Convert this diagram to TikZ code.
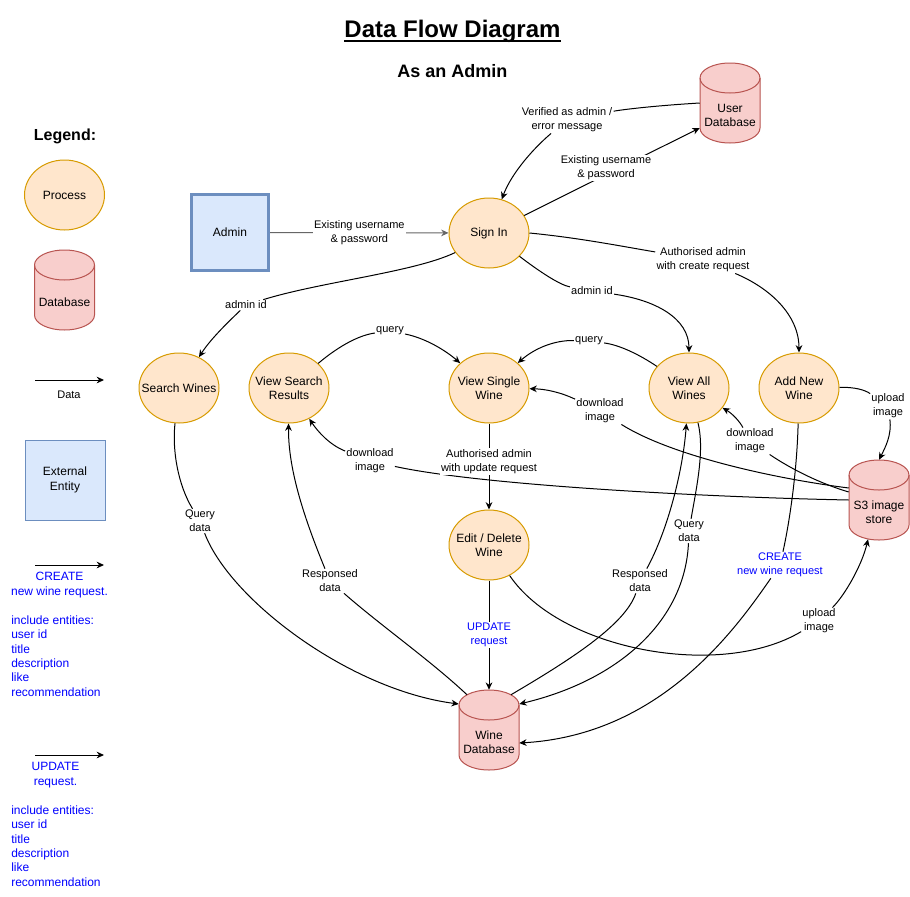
\documentclass[tikz,border=0pt]{standalone}
\usepackage{fontspec}
\setmainfont{Liberation Sans}
\usetikzlibrary{shapes.geometric,arrows.meta,calc}
\definecolor{procF}{HTML}{FFE6CC}
\definecolor{procS}{HTML}{D79B00}
\definecolor{dbF}{HTML}{F8CECC}
\definecolor{dbS}{HTML}{B85450}
\definecolor{entF}{HTML}{DAE8FC}
\definecolor{entS}{HTML}{6C8EBF}
\definecolor{reqblue}{RGB}{0,0,255}
\definecolor{flowgray}{HTML}{666666}
\tikzset{
  nodefont/.style={font=\fontsize{9}{10.8}\selectfont},
  proc/.style={ellipse, draw=procS, fill=procF, line width=0.75pt, minimum width=60pt, minimum height=52.5pt, inner sep=0pt},
  ptxt/.style={inner sep=0pt, align=center, nodefont},
  ent/.style={rectangle, draw=entS, fill=entF, line width=0.75pt, minimum width=60pt, minimum height=60pt, inner sep=0pt, align=center, nodefont},
  dbbox/.style={rectangle, minimum width=45pt, minimum height=60pt, inner sep=0pt},
  dbtxt/.style={align=center, inner sep=0pt, nodefont},
  lbl/.style={fill=white, inner sep=0.8pt, align=center, font=\fontsize{8.25}{10.5}\selectfont},
  plaintxt/.style={inner sep=0pt, align=center, font=\fontsize{8.25}{10.5}\selectfont},
  bluetxt/.style={inner sep=0pt, align=center, text=reqblue, font=\fontsize{9}{10.8}\selectfont},
  seg/.style={draw=black, line width=0.75pt},
  arr/.style={seg, -{Stealth[length=5.5pt,width=5pt]}},
  grayarr/.style={draw=flowgray, line width=0.75pt, -{Stealth[length=5.5pt,width=5pt]}},
}
\newcommand\dfdcyl[4]{%
  \begin{scope}[shift={(#2,#3)}]
    \filldraw[fill=dbF, draw=dbS, line width=0.75pt] (-30,-25) -- (-30,25)
      arc[start angle=180, end angle=360, x radius=22.5pt, y radius=11.25pt] -- (30,-25)
      arc[start angle=0, end angle=180, x radius=22.5pt, y radius=11.25pt] -- cycle;
    \draw[draw=dbS, line width=0.75pt] (-30,-25) arc[start angle=180, end angle=360, x radius=22.5pt, y radius=11.25pt];
    \node[dbbox] (#1) at (0,0) {};
    \node[dbtxt] (#1-t) at (0,12.5) {#4};
  \end{scope}}
\begin{document}
\begin{tikzpicture}[x=0.75pt,y=-0.75pt]
\fill[white] (0,0) rectangle (910,896);
\useasboundingbox (0,0) rectangle (910,896);

% titles
\node[inner sep=0pt, anchor=base, font=\bfseries\fontsize{18}{21}\selectfont] (ttl) at (452.5,37.5) {Data Flow Diagram};
\draw[line width=1.2pt] ([yshift=-2.4pt]ttl.base west) -- ([yshift=-2.4pt]ttl.base east);
\node[inner sep=0pt, anchor=base, font=\bfseries\fontsize{13.5}{16}\selectfont] (sub) at (452.5,77.5) {As an Admin};

% legend
\node[inner sep=0pt, anchor=base, font=\bfseries\fontsize{12}{14}\selectfont] (leg) at (65,140) {Legend:};
\node[proc, label={[ptxt]center:{Process}}] (lgproc) at (64.5,195) {};
\dfdcyl{lgdb}{64.5}{290}{Database}
\coordinate (lgd1) at (35,380);
\coordinate (lgd2) at (104,380);
\draw[arr] (lgd1) -- (lgd2);
\node[plaintxt] (lgdata) at (69,395) {Data};
\node[ent] (lgent) at (65,480) {External\\Entity};
\coordinate (lgc1) at (35,565);
\coordinate (lgc2) at (104,565);
\draw[arr] (lgc1) -- (lgc2);
\node[bluetxt] (lgcr) at (59.5,585) {CREATE\\new wine request.};
\node[bluetxt, anchor=west, align=left] (lgcri) at (11,656) {include entities:\\user id\\title\\description\\like\\recommendation};
\coordinate (lgu1) at (35,755);
\coordinate (lgu2) at (104,755);
\draw[arr] (lgu1) -- (lgu2);
\node[bluetxt] (lgup) at (55.5,775) {UPDATE\\request.};
\node[bluetxt, anchor=west, align=left] (lgupi) at (11,846) {include entities:\\user id\\title\\description\\like\\recommendation};

% main nodes
\node[ent, line width=2.25pt, minimum width=58pt, minimum height=57.5pt] (admin) at (230,232.5) {Admin};
\node[proc, label={[ptxt]center:{Sign In}}] (signin) at (489,233) {};
\dfdcyl{udb}{730}{103}{User\\Database}
\node[proc, label={[ptxt]center:{Search Wines}}] (searchw) at (179,388) {};
\node[proc, label={[ptxt]center:{View Search\\Results}}] (vsr) at (289,388) {};
\node[proc, label={[ptxt]center:{View Single\\Wine}}] (vsw) at (489,388) {};
\node[proc, label={[ptxt]center:{View All\\Wines}}] (viewall) at (689,388) {};
\node[proc, label={[ptxt]center:{Add New\\Wine}}] (addnew) at (799,388) {};
\node[proc, label={[ptxt]center:{Edit / Delete\\Wine}}] (edw) at (489,545) {};
\dfdcyl{wdb}{489}{730}{Wine\\Database}
\dfdcyl{s3}{879}{500}{S3 image\\store}

% edge labels
\node[lbl] (lverif) at (567,120) {Verified as admin /\\error message};
\node[lbl] (lauth) at (703,260) {Authorised admin\\with create request};
\node[lbl] (ladm2) at (592,291) {admin id};
\node[lbl] (ladm1) at (246,305) {admin id};
\node[lbl] (lq1) at (390,331) {query};
\node[lbl] (lq2) at (589,341) {query};
\node[lbl] (ldl1) at (600,411) {download\\image};
\node[lbl] (ldl2) at (750,441) {download\\image};
\node[lbl] (ldl3) at (370,461) {download\\image};
\node[lbl] (lup2) at (888,406) {upload\\image};
\node[lbl] (lqd1) at (200,521) {Query\\data};
\node[lbl] (lrd1) at (330,581) {Responsed\\data};
\node[lbl] (lrd2) at (640,581) {Responsed\\data};
\node[lbl] (lqd2) at (689,531) {Query\\data};
\node[lbl, text=reqblue] (lcr) at (780,565) {CREATE\\new wine request};
\node[lbl] (lup1) at (819,621) {upload\\image};

% connectors
\draw[grayarr] (admin) -- node[lbl] {Existing username\\\& password} (signin);

\draw[seg] (udb.west) .. controls (650,106) and (620,110) .. (lverif);
\draw[arr] (lverif) .. controls (535,147) and (512,172) .. (signin);

\draw[arr] (signin) -- ($(udb.west)+(0,25)$);
\node[lbl] (lexist2) at (606,168) {Existing username\\\& password};

\draw[seg] (signin.east) .. controls (580,238) and (620,246) .. (lauth);
\draw[arr] (lauth) .. controls (770,288) and (799,315) .. (addnew);

\draw[seg] (signin) .. controls (540,272) and (560,285) .. (ladm2);
\draw[arr] (ladm2) .. controls (655,300) and (689,318) .. (viewall);

\draw[seg] (signin.210) .. controls (415,272) and (320,282) .. (ladm1);
\draw[arr] (ladm1) .. controls (225,325) and (210,340) .. (searchw);

\draw[seg] (vsr) .. controls (340,345) and (360,335) .. (lq1);
\draw[arr] (lq1) .. controls (425,338) and (445,350) .. (vsw);

\draw[seg] (viewall) .. controls (640,355) and (620,345) .. (lq2);
\draw[arr] (lq2) .. controls (555,340) and (535,348) .. (vsw);

\draw[seg] ($(s3.west)+(0,-12)$) .. controls (770,478) and (670,455) .. (ldl1);
\draw[arr] (ldl1) .. controls (560,392) and (545,389) .. (vsw);

\draw[seg] ($(s3.west)+(0,-8)$) .. controls (815,482) and (785,465) .. (ldl2);
\draw[arr] (ldl2) .. controls (740,422) and (733,414) .. (viewall);

\draw[seg] (s3.west) .. controls (700,497) and (480,485) .. (ldl3);
\draw[arr] (ldl3) .. controls (330,445) and (318,432) .. (vsr);

\draw[seg] (searchw) .. controls (172,450) and (178,485) .. (lqd1);
\draw[arr] (lqd1) .. controls (230,600) and (350,690) .. ($(wdb.west)+(0,-26)$);

\draw[seg] ($(wdb.north)+(-22,5)$) .. controls (430,660) and (380,625) .. (lrd1);
\draw[arr] (lrd1) .. controls (305,520) and (288,470) .. (vsr);

\draw[arr] (vsw) -- node[lbl, pos=0.44] {Authorised admin\\with update request} (edw);
\draw[arr] (edw) -- node[lbl, text=reqblue] {UPDATE\\request} (wdb);

\draw[seg] (edw) .. controls (560,650) and (720,680) .. (lup1);
\draw[arr] (lup1) .. controls (845,595) and (862,565) .. ($(s3.south)+(-11,-1)$);

\draw[seg] ($(wdb.north)+(22,5)$) .. controls (570,660) and (625,625) .. (lrd2);
\draw[arr] (lrd2) .. controls (668,530) and (683,470) .. (viewall);

\draw[seg] (viewall) .. controls (705,450) and (696,490) .. (lqd2);
\draw[arr] (lqd2) .. controls (685,620) and (620,680) .. ($(wdb.east)+(0,-26)$);

\draw[seg] (addnew) .. controls (797,470) and (790,520) .. (lcr);
\draw[arr] (lcr) .. controls (735,630) and (660,735) .. ($(wdb.east)+(0,13)$);

\draw[seg] (addnew) .. controls (855,387) and (865,390) .. (lup2);
\draw[arr] (lup2) .. controls (892,435) and (885,448) .. (s3.north);
\end{tikzpicture}
\end{document}
